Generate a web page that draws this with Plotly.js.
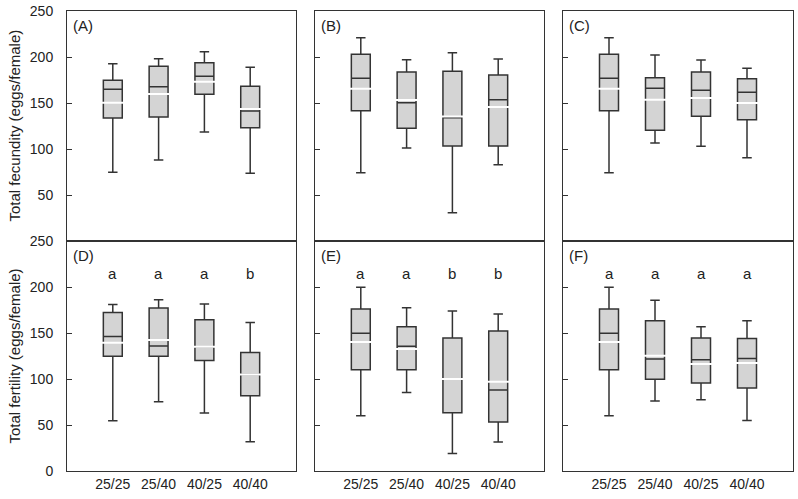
<!DOCTYPE html>
<html>
<head>
<meta charset="utf-8">
<script src="https://cdn.plot.ly/plotly-3.0.1.min.js"></script>
<style>html,body{margin:0;padding:0;background:#fff;}#chart{width:798px;height:499px;}</style>
</head>
<body>
<div id="chart"></div>
<script>
// Categories (treatments)
const categories = ["25/25", "25/40", "40/25", "40/40"];

// Panel A — total fecundity
const A_low  = [74.6, 88.0, 118.5, 73.6];
const A_q1   = [133.7, 134.8, 159.4, 123.2];
const A_med  = [164.9, 167.7, 179.0, 141.3];
const A_q3   = [174.6, 189.9, 193.8, 168.1];
const A_high = [192.7, 198.2, 205.8, 188.8];
const A_mean = [150.3, 159.8, 173.2, 143.5];

// Panel B — total fecundity
const B_low  = [74.3, 101.1, 30.8, 82.9];
const B_q1   = [141.6, 122.5, 103.3, 103.3];
const B_med  = [176.8, 150.3, 134.0, 153.6];
const B_q3   = [202.9, 183.7, 184.4, 180.4];
const B_high = [221.0, 197.1, 204.7, 197.8];
const B_mean = [165.6, 153.3, 135.2, 145.7];

// Panel C — total fecundity
const C_low  = [74.3, 106.5, 102.9, 90.6];
const C_q1   = [141.6, 120.3, 135.5, 131.9];
const C_med  = [176.8, 165.9, 163.8, 161.6];
const C_q3   = [202.9, 177.5, 183.7, 176.4];
const C_high = [221.0, 202.2, 196.7, 187.7];
const C_mean = [165.6, 153.6, 155.4, 150.0];

// Panel D — total fertility
const D_low  = [54.7, 75.3, 63.0, 31.8];
const D_q1   = [124.6, 124.6, 120.2, 81.8];
const D_med  = [146.3, 135.9, 135.1, 105.0];
const D_q3   = [172.4, 177.2, 164.5, 128.9];
const D_high = [181.1, 186.2, 181.5, 161.5];
const D_mean = [139.5, 142.4, 135.1, 105.0];
const D_letters = ["a", "a", "a", "b"];

// Panel E — total fertility
const E_low  = [60.1, 85.4, 19.1, 31.5];
const E_q1   = [110.1, 110.1, 63.4, 53.2];
const E_med  = [149.6, 135.5, 100.0, 88.0];
const E_q3   = [176.1, 156.8, 144.6, 152.2];
const E_high = [199.6, 177.5, 173.9, 170.7];
const E_mean = [140.2, 132.6, 100.0, 97.1];
const E_letters = ["a", "a", "b", "b"];

// Panel F — total fertility
const F_low  = [60.1, 76.1, 77.5, 55.0];
const F_q1   = [110.1, 99.6, 95.7, 90.2];
const F_med  = [149.6, 121.7, 121.0, 122.4];
const F_q3   = [176.1, 163.4, 144.6, 144.1];
const F_high = [199.6, 185.5, 156.8, 163.4];
const F_mean = [140.2, 125.3, 116.3, 117.4];
const F_letters = ["a", "a", "a", "a"];

const panelLabels = ["(A)", "(B)", "(C)", "(D)", "(E)", "(F)"];
const yTitles = ["Total fecundity (eggs/female)", "Total fertility (eggs/female)"];
const letterY = 215;

const panels = [
  [A_low, A_q1, A_med, A_q3, A_high, A_mean, null],
  [B_low, B_q1, B_med, B_q3, B_high, B_mean, null],
  [C_low, C_q1, C_med, C_q3, C_high, C_mean, null],
  [D_low, D_q1, D_med, D_q3, D_high, D_mean, D_letters],
  [E_low, E_q1, E_med, E_q3, E_high, E_mean, E_letters],
  [F_low, F_q1, F_med, F_q3, F_high, F_mean, F_letters]
];

const FONT = "Liberation Sans, Arial, sans-serif";
const TXT = "#222";
const LINE = "#333";
const FS = 14;

const W = 798, H = 499, ml = 67, mr = 5, mt = 11, mb = 28;
const pw = W - ml - mr;
const xDomains = [[0, 229 / pw], [(315 - ml) / pw, (544 - ml) / pw], [(563 - ml) / pw, 1]];
const yDomains = [[0.5, 1], [0, 0.5]];

const boxTraces = [], meanTraces = [], annotations = [];
panels.forEach((p, i) => {
  const xa = i === 0 ? "x" : "x" + (i + 1);
  const ya = i === 0 ? "y" : "y" + (i + 1);
  boxTraces.push({
    type: "box", x: categories, xaxis: xa, yaxis: ya,
    lowerfence: p[0], q1: p[1], median: p[2], q3: p[3], upperfence: p[4],
    fillcolor: "#d4d4d4", line: {color: LINE, width: 1.5},
    whiskerwidth: 0.5, showlegend: false, hoverinfo: "skip"
  });
  meanTraces.push({
    type: "scatter", mode: "markers", x: categories, y: p[5], xaxis: xa, yaxis: ya,
    marker: {symbol: "line-ew", size: 25, color: "#fff", line: {color: "#fff", width: 2}},
    showlegend: false, hoverinfo: "skip"
  });
  annotations.push({
    text: panelLabels[i], xref: xa + " domain", yref: ya + " domain",
    x: 0.018, y: 0.935, xanchor: "left", yanchor: "middle", showarrow: false,
    font: {family: FONT, size: 15, color: TXT}
  });
  if (p[6]) {
    p[6].forEach((t, j) => annotations.push({
      text: t, xref: xa, yref: ya, x: categories[j], y: letterY,
      showarrow: false, yanchor: "middle", font: {family: FONT, size: 15, color: TXT}
    }));
  }
});

// Row y-axis titles (rotated text placed left of the tick labels)
yTitles.forEach((t, r) => annotations.push({
  text: t, xref: "paper", yref: (r === 0 ? "y" : "y4") + " domain",
  x: (13.5 - ml) / pw, y: 0.5, xanchor: "center", yanchor: "middle",
  textangle: -90, showarrow: false, font: {family: FONT, size: 15, color: TXT}
}));

const layout = {
  width: W, height: H,
  margin: {l: ml, r: mr, t: mt, b: mb},
  paper_bgcolor: "#fff", plot_bgcolor: "#fff",
  font: {family: FONT, size: FS, color: TXT},
  boxgap: 0.41,
  annotations: annotations,
  showlegend: false
};

for (let i = 0; i < 6; i++) {
  const row = Math.floor(i / 3), col = i % 3;
  const xk = i === 0 ? "xaxis" : "xaxis" + (i + 1);
  const yk = i === 0 ? "yaxis" : "yaxis" + (i + 1);
  const ya = i === 0 ? "y" : "y" + (i + 1);
  const xa = i === 0 ? "x" : "x" + (i + 1);
  layout[xk] = {
    domain: xDomains[col], anchor: ya, type: "category",
    categoryorder: "array", categoryarray: categories,
    range: [-1, 4], showgrid: false, zeroline: false,
    showline: true, mirror: true, linecolor: LINE, linewidth: 1,
    ticks: "", showticklabels: row === 1,
    tickfont: {family: FONT, size: FS, color: TXT}, fixedrange: true
  };
  layout[yk] = {
    domain: yDomains[row], anchor: xa, range: [0, 250],
    tickvals: row === 0 ? [50, 100, 150, 200, 250] : [0, 50, 100, 150, 200, 250],
    showgrid: false, zeroline: false,
    showline: true, mirror: true, linecolor: LINE, linewidth: 1,
    ticks: "inside", ticklen: 5, tickcolor: LINE,
    showticklabels: col === 0, ticklabelstandoff: 10,
    tickfont: {family: FONT, size: FS, color: TXT}, fixedrange: true
  };
}

Plotly.newPlot("chart", boxTraces.concat(meanTraces), layout, {displayModeBar: false, staticPlot: true});
</script>
</body>
</html>
